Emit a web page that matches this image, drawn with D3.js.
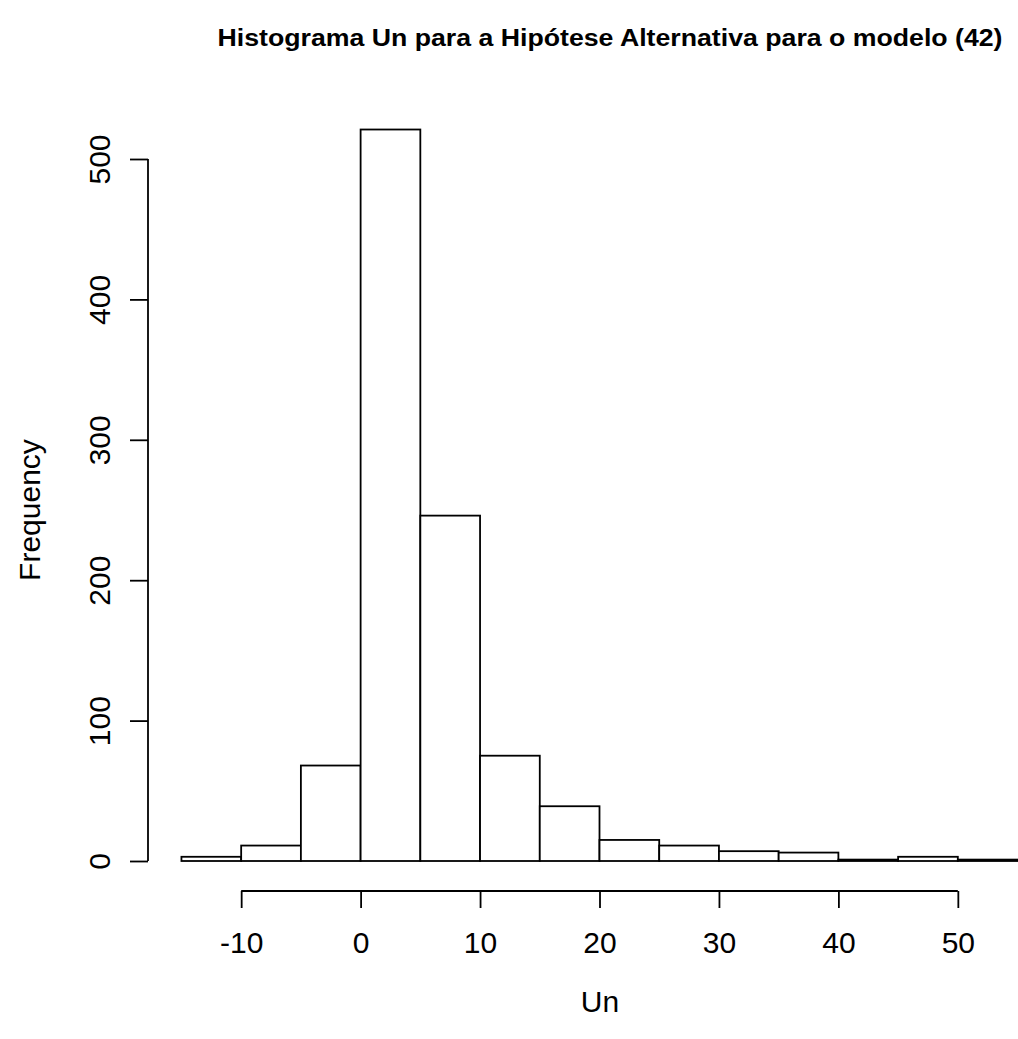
<!DOCTYPE html>
<html>
<head>
<meta charset="utf-8">
<script src="https://cdnjs.cloudflare.com/ajax/libs/d3/7.8.5/d3.min.js"></script>
<style>
  body { margin: 0; background: #fff; }
  text { font-family: "Liberation Sans", Arial, sans-serif; }
</style>
</head>
<body>
<svg class="chart" width="1018" height="1039"></svg>
<script>
// histogram bins (left edge, right edge) and counts
var binStart = [-15, -10, -5, 0, 5, 10, 15, 20, 25, 30, 35, 40, 45, 50];
var binEnd   = [-10, -5, 0, 5, 10, 15, 20, 25, 30, 35, 40, 45, 50, 55];
var counts   = [3, 11, 68, 521, 246, 75, 39, 15, 11, 7, 6, 1, 3, 1];
var xTicks = [-10, 0, 10, 20, 30, 40, 50];
var yTicks = [0, 100, 200, 300, 400, 500];

var svg = d3.select(".chart");

// R style: xlim = range(breaks) extended 4%
var x = d3.scaleLinear().domain([-17.8, 57.8]).range([148, 1051]);
var y = d3.scaleLinear().domain([0, 500]).range([861, 159]);

svg.append("text")
  .attr("x", 610).attr("y", 46)
  .attr("text-anchor", "middle")
  .attr("font-size", 23).attr("font-weight", "bold")
  .attr("textLength", 785).attr("lengthAdjust", "spacingAndGlyphs")
  .text("Histograma Un para a Hipótese Alternativa para o modelo (42)");

var bars = svg.append("g");
binStart.forEach(function(s, i) {
  bars.append("rect")
    .attr("x", x(s)).attr("y", y(counts[i]))
    .attr("width", x(binEnd[i]) - x(s))
    .attr("height", y(0) - y(counts[i]))
    .attr("fill", "#fff").attr("stroke", "#000").attr("stroke-width", 1.8);
});

// x axis, detached like R
var xa = svg.append("g").attr("transform", "translate(0,891)")
  .call(d3.axisBottom(x).tickValues(xTicks).tickSize(17).tickPadding(24).tickSizeOuter(0)
    .tickFormat(function(d) { return String(d); }));
xa.select(".domain").attr("d", "M" + x(-10) + ",0H" + x(50)).attr("stroke-width", 1.8);
xa.selectAll(".tick line").attr("stroke-width", 1.8);
xa.selectAll(".tick text").attr("font-size", 30).attr("fill", "#000")
  .attr("font-family", "Liberation Sans, Arial, sans-serif");

// y axis
var ya = svg.append("g").attr("transform", "translate(148,0)")
  .call(d3.axisLeft(y).tickValues(yTicks).tickSize(18).tickSizeOuter(0));
ya.select(".domain").attr("d", "M0," + y(0) + "V" + y(500)).attr("stroke-width", 1.8);
ya.selectAll(".tick line").attr("stroke-width", 1.8);
ya.selectAll(".tick text").remove();
ya.selectAll(".tick").append("text")
  .attr("transform", "translate(-38,0) rotate(-90)")
  .attr("text-anchor", "middle")
  .attr("font-size", 30).attr("fill", "#000")
  .attr("font-family", "Liberation Sans, Arial, sans-serif")
  .text(function(d) { return d; });

svg.append("text")
  .attr("x", 600).attr("y", 1012)
  .attr("text-anchor", "middle").attr("font-size", 30)
  .text("Un");

svg.append("text")
  .attr("transform", "translate(40,510) rotate(-90)")
  .attr("text-anchor", "middle").attr("font-size", 30)
  .text("Frequency");
</script>
</body>
</html>
